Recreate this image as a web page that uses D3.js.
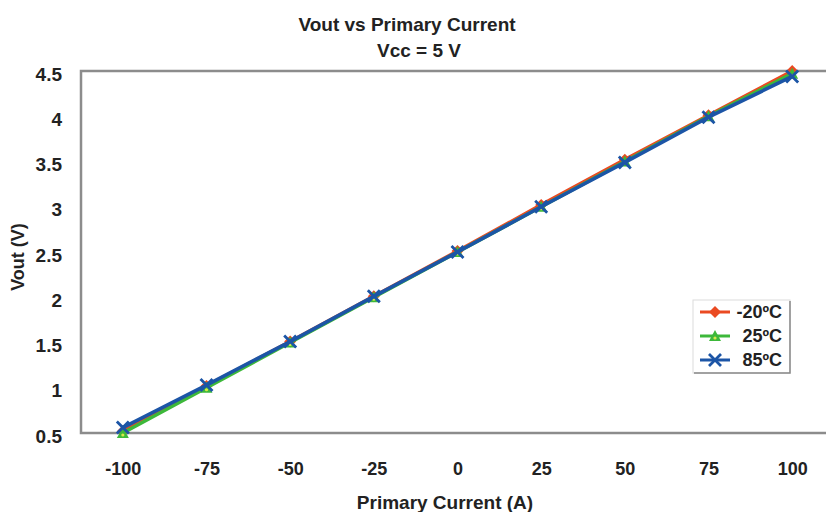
<!DOCTYPE html>
<html>
<head>
<meta charset="utf-8">
<script src="https://cdn.jsdelivr.net/npm/d3@7"></script>
<style>
  html, body { margin: 0; padding: 0; background: #fff; }
  svg { display: block; font-family: "Liberation Sans", Arial, sans-serif; }
</style>
</head>
<body>
<svg id="chart" width="826" height="512"></svg>
<script>
// Primary current categories (A)
const currents = [-100, -75, -50, -25, 0, 25, 50, 75, 100];
// Output voltage (V) at each temperature
const voutMinus20 = [0.52, 1.02, 1.51, 2.01, 2.51, 3.02, 3.52, 4.01, 4.50];
const vout25 = [0.50, 1.00, 1.50, 2.00, 2.50, 3.00, 3.50, 4.00, 4.47];
const vout85 = [0.56, 1.03, 1.51, 2.01, 2.50, 3.00, 3.49, 3.99, 4.44];
const seriesNames = ["-20ºC", "25ºC", "85ºC"];
const yTicks = [0.5, 1, 1.5, 2, 2.5, 3, 3.5, 4, 4.5];

const series = [
  { name: seriesNames[0], values: voutMinus20, color: "#ea4a22", marker: "diamond" },
  { name: seriesNames[1], values: vout25, color: "#3db83a", marker: "triangle" },
  { name: seriesNames[2], values: vout85, color: "#1c55a6", marker: "cross" }
];

const svg = d3.select("#chart");
const plot = { left: 81, top: 71, right: 834, bottom: 433 };
const ink = "#222";

const x = d3.scalePoint().domain(currents).range([plot.left, plot.right]).padding(0.5);
const y = d3.scaleLinear().domain([0.5, 4.5]).range([plot.bottom, plot.top]);

// Title
svg.append("text").attr("x", 407).attr("y", 31).attr("text-anchor", "middle")
  .attr("font-size", 19).attr("font-weight", "bold").attr("fill", ink)
  .text("Vout vs Primary Current");
svg.append("text").attr("x", 419).attr("y", 57).attr("text-anchor", "middle")
  .attr("font-size", 19).attr("font-weight", "bold").attr("fill", ink)
  .text("Vcc = 5 V");

// Plot frame
svg.append("rect")
  .attr("x", plot.left).attr("y", plot.top)
  .attr("width", plot.right - plot.left).attr("height", plot.bottom - plot.top)
  .attr("fill", "#fff").attr("stroke", "#8c8c8c").attr("stroke-width", 2.5);

// Y axis labels
const yAxis = d3.axisLeft(y).tickValues(yTicks).tickSize(0).tickPadding(0)
  .tickFormat(d3.format(""));
const gy = svg.append("g").attr("transform", `translate(62,3)`).call(yAxis);
gy.select(".domain").remove();
gy.selectAll("text").attr("font-size", 19).attr("font-weight", "bold")
  .attr("fill", ink).attr("font-family", "Liberation Sans, Arial, sans-serif");

// X axis labels
const xAxis = d3.axisBottom(x).tickSize(0).tickPadding(0);
const gx = svg.append("g").attr("transform", `translate(0,462)`).call(xAxis);
gx.select(".domain").remove();
gx.selectAll("text").attr("font-size", 18).attr("font-weight", "bold")
  .attr("fill", ink).attr("font-family", "Liberation Sans, Arial, sans-serif");

// Axis titles
svg.append("text").attr("x", 445).attr("y", 509).attr("text-anchor", "middle")
  .attr("font-size", 19).attr("font-weight", "bold").attr("fill", ink)
  .text("Primary Current (A)");
svg.append("text").attr("transform", "translate(24,257) rotate(-90)")
  .attr("text-anchor", "middle")
  .attr("font-size", 18).attr("font-weight", "bold").attr("fill", ink)
  .text("Vout (V)");

// Marker shapes
function drawMarker(g, type, cx, cy, color) {
  if (type === "diamond") {
    g.append("path").attr("d", `M${cx},${cy - 6}L${cx + 6},${cy}L${cx},${cy + 6}L${cx - 6},${cy}Z`)
      .attr("fill", color);
  } else if (type === "triangle") {
    g.append("path").attr("d", `M${cx},${cy - 6}L${cx + 6},${cy + 5}L${cx - 6},${cy + 5}Z`)
      .attr("fill", color);
    g.append("circle").attr("cx", cx).attr("cy", cy + 2).attr("r", 1.6).attr("fill", "#d8e84a");
  } else {
    g.append("path").attr("d", `M${cx - 6},${cy - 6}L${cx + 6},${cy + 6}M${cx - 6},${cy + 6}L${cx + 6},${cy - 6}`)
      .attr("stroke", color).attr("stroke-width", 2.8).attr("fill", "none");
  }
}

// Series lines and markers
const line = d3.line().x((d, i) => x(currents[i])).y(d => y(d));
series.forEach(s => {
  const g = svg.append("g");
  g.append("path").datum(s.values).attr("d", line)
    .attr("fill", "none").attr("stroke", s.color).attr("stroke-width", 3.6)
    .attr("stroke-linejoin", "round");
  s.values.forEach((v, i) => drawMarker(g, s.marker, x(currents[i]), y(v), s.color));
});

// Legend
const legend = svg.append("g");
legend.append("rect").attr("x", 693).attr("y", 300).attr("width", 97).attr("height", 73)
  .attr("fill", "#fff").attr("stroke", "#dcdcdc").attr("stroke-width", 1);
legend.append("path").attr("d", "M790,301L790,373L694,373")
  .attr("fill", "none").attr("stroke", "#888").attr("stroke-width", 1.5);
series.forEach((s, i) => {
  const ly = 312 + i * 24;
  legend.append("line").attr("x1", 700).attr("x2", 730).attr("y1", ly).attr("y2", ly)
    .attr("stroke", s.color).attr("stroke-width", 3);
  drawMarker(legend, s.marker, 715, ly, s.color);
  legend.append("text").attr("x", 782).attr("y", ly + 6).attr("text-anchor", "end")
    .attr("font-size", 18).attr("font-weight", "bold").attr("fill", ink)
    .text(s.name);
});
</script>
</body>
</html>
